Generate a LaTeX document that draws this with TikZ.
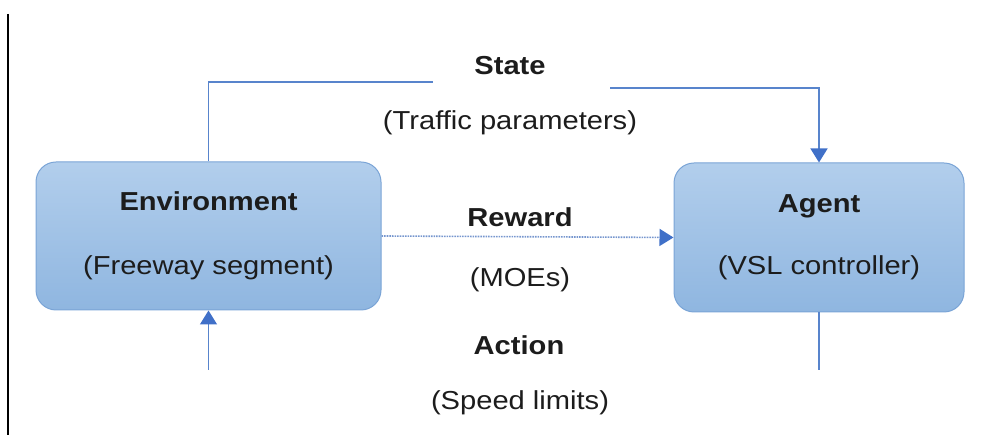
\documentclass[tikz,border=0pt]{standalone}
\usepackage{fontspec}
\setmainfont{Liberation Sans}[FakeStretch=1.12]
\usepackage{tikz}
\usetikzlibrary{calc,arrows.meta}
\definecolor{boxtop}{RGB}{178,206,236}
\definecolor{boxbot}{RGB}{143,182,224}
\definecolor{boxedge}{RGB}{122,164,214}
\definecolor{linec}{RGB}{88,132,204}
\definecolor{tipc}{RGB}{64,112,200}
\definecolor{dotc}{RGB}{118,150,206}
\definecolor{txt}{RGB}{28,28,28}

\begin{document}
\begin{tikzpicture}[
x=1pt, y=1pt,
box/.style={
	draw=boxedge, line width=1pt,
	rounded corners=20pt,
	top color=boxtop, bottom color=boxbot,
	align=center, inner sep=0pt, text=txt,
	font=\fontsize{26}{31}\selectfont
},
lbl/.style={anchor=base, text=txt, font=\fontsize{26}{31}\selectfont},
flow/.style={draw=linec, line width=1.4pt},
arr/.style={-{Triangle[width=17pt,length=14pt,color=tipc]}},
thick
]
\useasboundingbox (0,0) rectangle (988,435);
\draw[black, line width=2pt] (8,421) -- (8,0);
\node[box, minimum width=345pt, minimum height=148pt] (env) at (208.5,199)
	{\textbf{Environment}\\[33pt](Freeway segment)};
\node[box, minimum width=290pt, minimum height=149pt] (agent) at (819,197.5)
	{\textbf{Agent}\\[31pt](VSL controller)};
\node[lbl, font=\fontsize{26}{31}\selectfont\bfseries] (state) at (510,360) {State};
\node[lbl] (statep) at (510,305) {(Traffic parameters)};
\node[lbl, font=\fontsize{26}{31}\selectfont\bfseries] (reward) at (520,208) {Reward};
\node[lbl] (rewardp) at (520,148) {(MOEs)};
\node[lbl, font=\fontsize{26}{31}\selectfont\bfseries] (action) at (519,80) {Action};
\node[lbl] (actionp) at (520,25) {(Speed limits)};
\coordinate (sL) at (433,353);
\coordinate (sR) at (610,347);
\coordinate (aR) at (819,65);
\coordinate (aL) at (208.5,65);
\draw[flow] (env.north) |- (sL);
\draw[flow, arr] (sR) -| (agent.north);
\draw[draw=dotc, line width=1.6pt, densely dotted, arr] (env.east) -- (agent.west);
\draw[flow] (agent.south) -- (aR);
\draw[flow, arr] (aL) -- (env.south);
\end{tikzpicture}
\end{document}
